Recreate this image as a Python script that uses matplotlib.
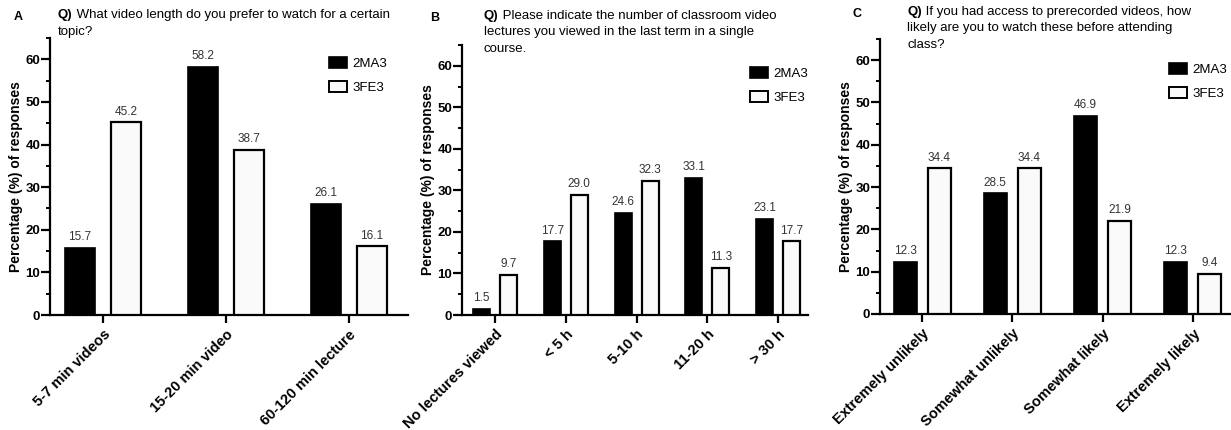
import matplotlib
matplotlib.use("Agg")
import matplotlib.pyplot as plt
import numpy as np
from matplotlib.patches import Patch
from matplotlib.ticker import MultipleLocator

plt.rcParams['font.family'] = ['Liberation Sans', 'DejaVu Sans']

series_names = ["2MA3", "3FE3"]

cats_a = ["5-7 min videos", "15-20 min video", "60-120 min lecture"]
ma3_a = [15.7, 58.2, 26.1]
fe3_a = [45.2, 38.7, 16.1]

cats_b = ["No lectures viewed", "< 5 h", "5-10 h", "11-20 h", "> 30 h"]
ma3_b = [1.5, 17.7, 24.6, 33.1, 23.1]
fe3_b = [9.7, 29.0, 32.3, 11.3, 17.7]

cats_c = ["Extremely unlikely", "Somewhat unlikely", "Somewhat likely", "Extremely likely"]
ma3_c = [12.3, 28.5, 46.9, 12.3]
fe3_c = [34.4, 34.4, 21.9, 9.4]

titles = [
    ("A", "What video length do you prefer to watch for a certain\ntopic?"),
    ("B", "Please indicate the number of classroom video\nlectures you viewed in the last term in a single\ncourse."),
    ("C", "If you had access to prerecorded videos, how\nlikely are you to watch these before attending\nclass?"),
]

W, H = 1231, 430
fig = plt.figure(figsize=(W / 100, H / 100), dpi=100)

def px_axes(left, right, bottom, top):
    return fig.add_axes([left / W, 1 - bottom / H, (right - left) / W, (bottom - top) / H])

panels = [
    dict(cats=cats_a, a=ma3_a, b=fe3_a, left=50, right=408, bottom=315, top=38,
         x0=103, dx=123, off=23, bw=30,
         letter_xy=(18, 17), q_xy=(58, 9), leg_xy=(329, 57)),
    dict(cats=cats_b, a=ma3_b, b=fe3_b, left=462, right=808, bottom=315, top=45,
         x0=495, dx=70.75, off=13.5, bw=17,
         letter_xy=(435, 18), q_xy=(484, 10), leg_xy=(750, 67)),
    dict(cats=cats_c, a=ma3_c, b=fe3_c, left=880, right=1230, bottom=314, top=39,
         x0=922, dx=90.3, off=17, bw=23,
         letter_xy=(857, 14), q_xy=(907, 6), leg_xy=(1169, 63)),
]

for p, (letter, qtext) in zip(panels, titles):
    ax = px_axes(p['left'], p['right'], p['bottom'], p['top'])
    n = len(p['cats'])
    xmin = -(p['x0'] - p['left']) / p['dx']
    xmax = xmin + (p['right'] - p['left']) / p['dx']
    x = np.arange(n)
    off = p['off'] / p['dx']
    bw = p['bw'] / p['dx']
    ba = ax.bar(x - off, p['a'], width=bw, color='black', edgecolor='black', linewidth=1.2, zorder=3)
    bb = ax.bar(x + off, p['b'], width=bw, color='#fafafa', edgecolor='black', linewidth=1.6, zorder=3)
    for rect, v in list(zip(ba, p['a'])) + list(zip(bb, p['b'])):
        ax.annotate(f"{v:.1f}", (rect.get_x() + rect.get_width() / 2, v),
                    xytext=(0, 3.5), textcoords='offset points', ha='center', va='bottom',
                    fontsize=8.5, color='#333333')
    ax.set_xlim(xmin, xmax)
    ax.set_ylim(0, 65)
    ax.yaxis.set_major_locator(MultipleLocator(10))
    ax.yaxis.set_minor_locator(MultipleLocator(5))
    ax.set_yticks([0, 10, 20, 30, 40, 50, 60])
    ax.set_xticks(x)
    ax.set_xticklabels(p['cats'], rotation=45, ha='right', rotation_mode='anchor',
                       fontsize=10.5, fontweight='bold')
    for lab in ax.get_yticklabels():
        lab.set_fontweight('bold')
        lab.set_fontsize(9.5)
    ax.tick_params(axis='y', which='major', length=6.5, width=1.6, color='black', pad=0.5)
    ax.tick_params(axis='y', which='minor', length=3, width=1.4)
    ax.tick_params(axis='x', which='major', length=5.5, width=1.6, pad=3.5)
    for s in ['top', 'right']:
        ax.spines[s].set_visible(False)
    for s in ['left', 'bottom']:
        ax.spines[s].set_linewidth(1.6)
    ax.set_ylabel("Percentage (%) of responses", fontsize=10, fontweight='bold', labelpad=2)
    ax.set_facecolor('none')

    lx, ly = p['letter_xy']
    fig.text(lx / W, 1 - ly / H, letter, fontsize=9, fontweight='bold', ha='center', va='center')
    qx, qy = p['q_xy']
    lines = qtext.split("\n")
    for i, line in enumerate(lines):
        yy = 1 - (qy + i * 16.5) / H
        if i == 0:
            fig.text(qx / W, yy, "Q)", fontsize=9.5, fontweight='bold', ha='left', va='top')
            fig.text(qx / W + 15 / W, yy, " " + line, fontsize=9.5, ha='left', va='top')
        else:
            fig.text(qx / W, yy, line, fontsize=9.5, ha='left', va='top')

    handles = [Patch(facecolor='black', edgecolor='black', linewidth=1.2),
               Patch(facecolor='#fafafa', edgecolor='black', linewidth=1.4)]
    lgx, lgy = p['leg_xy']
    fig.legend(handles, series_names, loc='upper left',
               bbox_to_anchor=(lgx / W, 1 - lgy / H), frameon=False, fontsize=9.5,
               handlelength=1.4, handleheight=0.9, handletextpad=0.4,
               labelspacing=0.8, borderpad=0, borderaxespad=0)

fig.savefig("out.png", dpi=100)
